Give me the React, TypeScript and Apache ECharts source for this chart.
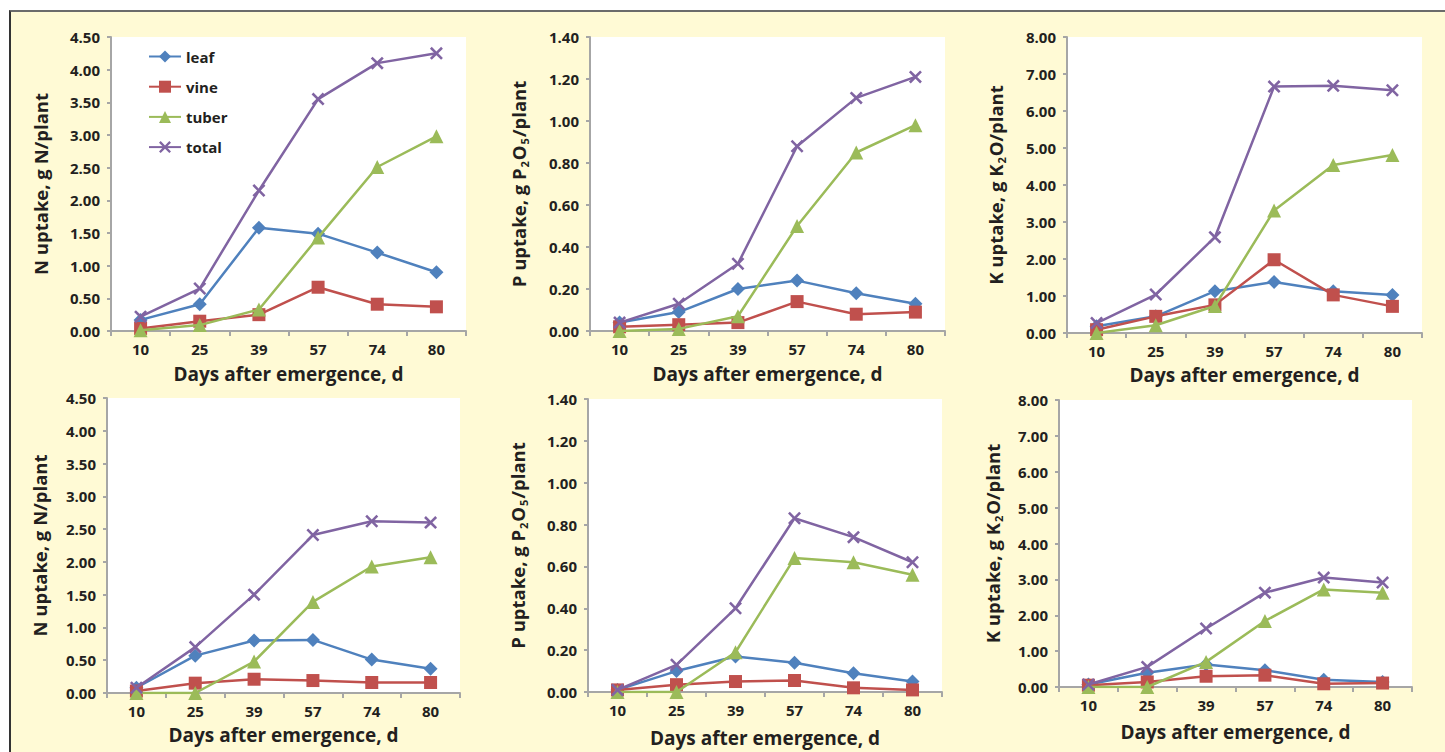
import React, { useEffect, useRef } from "react";
import * as echarts from "echarts";

const categories = ["10", "25", "39", "57", "74", "80"];
const seriesNames = ["leaf", "vine", "tuber", "total"];

// Top row
const topN_leaf = [0.17, 0.41, 1.58, 1.49, 1.2, 0.9];
const topN_vine = [0.04, 0.15, 0.25, 0.67, 0.41, 0.37];
const topN_tuber = [0.01, 0.09, 0.33, 1.43, 2.51, 2.98];
const topN_total = [0.22, 0.65, 2.15, 3.55, 4.1, 4.25];

const topP_leaf = [0.04, 0.09, 0.2, 0.24, 0.18, 0.13];
const topP_vine = [0.02, 0.03, 0.04, 0.14, 0.08, 0.09];
const topP_tuber = [0.0, 0.01, 0.07, 0.5, 0.85, 0.98];
const topP_total = [0.04, 0.13, 0.32, 0.88, 1.11, 1.21];

const topK_leaf = [0.18, 0.45, 1.13, 1.38, 1.13, 1.03];
const topK_vine = [0.09, 0.45, 0.76, 1.98, 1.03, 0.72];
const topK_tuber = [0.0, 0.21, 0.73, 3.31, 4.54, 4.81];
const topK_total = [0.27, 1.04, 2.59, 6.66, 6.68, 6.56];

// Bottom row
const botN_leaf = [0.08, 0.57, 0.8, 0.81, 0.51, 0.37];
const botN_vine = [0.03, 0.15, 0.21, 0.19, 0.16, 0.16];
const botN_tuber = [0.0, 0.0, 0.48, 1.39, 1.93, 2.07];
const botN_total = [0.08, 0.7, 1.5, 2.41, 2.62, 2.6];

const botP_leaf = [0.01, 0.1, 0.17, 0.14, 0.09, 0.05];
const botP_vine = [0.01, 0.035, 0.05, 0.055, 0.02, 0.01];
const botP_tuber = [0.0, 0.0, 0.19, 0.64, 0.62, 0.56];
const botP_total = [0.01, 0.13, 0.4, 0.83, 0.74, 0.62];

const botK_leaf = [0.07, 0.4, 0.63, 0.47, 0.2, 0.14];
const botK_vine = [0.05, 0.14, 0.3, 0.33, 0.09, 0.11];
const botK_tuber = [0.0, 0.0, 0.7, 1.84, 2.72, 2.63];
const botK_total = [0.07, 0.56, 1.63, 2.63, 3.05, 2.91];

const nName = "{a|N uptake, g N/plant}";
const pName = "{a|P uptake, g P}{s|2}{a|O}{s|5}{a|/plant}";
const kName = "{a|K uptake, g K}{s|2}{a|O/plant}";
const xName = "Days after emergence, d";

const COLORS = ["#4F81BD", "#C0504D", "#9BBB59", "#8064A2"];
const XSYM =
  "path://M0,1.4 L1.4,0 L5,3.6 L8.6,0 L10,1.4 L6.4,5 L10,8.6 L8.6,10 L5,6.4 L1.4,10 L0,8.6 L3.6,5 Z";
const SYMBOLS = ["diamond", "rect", "triangle", XSYM];
const SIZES = [14, 13, 14, 13];
const FONT = "'Open Sans', 'DejaVu Sans', sans-serif";
const TEXT = "#231F20";

const panels = [
  { grid: { left: 111, top: 37, width: 355, height: 294 }, max: 4.5, interval: 0.5, yName: nName, yGap: 59, xGap: 33, data: [topN_leaf, topN_vine, topN_tuber, topN_total] },
  { grid: { left: 590, top: 37, width: 355, height: 294 }, max: 1.4, interval: 0.2, yName: pName, yGap: 60, xGap: 33, data: [topP_leaf, topP_vine, topP_tuber, topP_total] },
  { grid: { left: 1067, top: 37, width: 355, height: 296 }, max: 8, interval: 1, yName: kName, yGap: 60, xGap: 32, data: [topK_leaf, topK_vine, topK_tuber, topK_total] },
  { grid: { left: 107, top: 398, width: 353, height: 295 }, max: 4.5, interval: 0.5, yName: nName, yGap: 56, xGap: 32, data: [botN_leaf, botN_vine, botN_tuber, botN_total] },
  { grid: { left: 588, top: 399, width: 354, height: 293 }, max: 1.4, interval: 0.2, yName: pName, yGap: 59, xGap: 36, data: [botP_leaf, botP_vine, botP_tuber, botP_total] },
  { grid: { left: 1059, top: 400, width: 353, height: 287 }, max: 8, interval: 1, yName: kName, yGap: 55, xGap: 35, data: [botK_leaf, botK_vine, botK_tuber, botK_total] },
];

export default function App() {
  const ref = useRef<HTMLDivElement>(null);

  useEffect(() => {
    document.body.style.margin = "0";
    if (!ref.current) return;
    const chart = echarts.init(ref.current, null, { renderer: "svg" });

    const axisLineStyle = { color: "#A6A6A6", width: 2 };
    const grids: any[] = [];
    const xAxes: any[] = [];
    const yAxes: any[] = [];
    const series: any[] = [];

    panels.forEach((p, i) => {
      grids.push({
        ...p.grid,
        show: true,
        backgroundColor: "#FFFFFF",
        borderWidth: 0,
        containLabel: false,
      });
      xAxes.push({
        type: "category",
        gridIndex: i,
        data: categories,
        boundaryGap: true,
        axisLine: { lineStyle: axisLineStyle },
        axisTick: { show: true, length: 5, lineStyle: axisLineStyle, alignWithLabel: false },
        axisLabel: { color: TEXT, fontSize: 15, fontWeight: "bold", fontFamily: FONT, margin: 10 },
        name: xName,
        nameLocation: "middle",
        nameGap: p.xGap,
        nameTextStyle: { color: TEXT, fontSize: 19, fontWeight: "bold", fontFamily: FONT },
        splitLine: { show: false },
      });
      yAxes.push({
        type: "value",
        gridIndex: i,
        min: 0,
        max: p.max,
        interval: p.interval,
        axisLine: { show: true, lineStyle: axisLineStyle },
        axisTick: { show: true, length: 4, lineStyle: axisLineStyle },
        axisLabel: {
          color: TEXT,
          fontSize: 15,
          fontWeight: "bold",
          fontFamily: FONT,
          margin: 11,
          formatter: (v: number) => v.toFixed(2),
        },
        splitLine: { show: false },
        name: p.yName,
        nameLocation: "middle",
        nameGap: p.yGap,
        nameRotate: 90,
        nameTextStyle: {
          rich: {
            a: { color: TEXT, fontSize: 18.5, fontWeight: "bold", fontFamily: FONT, lineHeight: 24 },
            s: { color: TEXT, fontSize: 11, fontWeight: "bold", fontFamily: FONT, verticalAlign: "bottom", lineHeight: 24, padding: [0, 1, 0, 1] },
          },
        },
      });
      p.data.forEach((vals, j) => {
        series.push({
          type: "line",
          name: seriesNames[j],
          xAxisIndex: i,
          yAxisIndex: i,
          data: vals,
          symbol: SYMBOLS[j],
          symbolSize: SIZES[j],
          showSymbol: true,
          lineStyle: { color: COLORS[j], width: 2.5 },
          itemStyle: { color: COLORS[j], borderWidth: 0 },
          z: 2 + j,
        });
      });
    });

    chart.setOption({
      animation: false,
      backgroundColor: "transparent",
      grid: grids,
      xAxis: xAxes,
      yAxis: yAxes,
      series,
      legend: {
        show: true,
        orient: "vertical",
        left: 143,
        top: 44,
        itemWidth: 32,
        itemHeight: 15,
        itemGap: 15.2,
        data: seriesNames,
        textStyle: { color: TEXT, fontSize: 15, fontWeight: "bold", fontFamily: FONT },
        backgroundColor: "transparent",
      },
    });

    return () => chart.dispose();
  }, []);

  return (
    <div style={{ position: "relative", width: 1445, height: 752, background: "#FFFFFF", overflow: "hidden" }}>
      <div
        style={{
          position: "absolute",
          left: 9,
          top: 10,
          width: 1445,
          height: 752,
          background: "#FFFAD5",
          borderTop: "2px solid #6B6B6B",
          borderLeft: "2px solid #333333",
        }}
      />
      <div ref={ref} style={{ position: "absolute", left: 0, top: 0, width: 1445, height: 752 }} />
    </div>
  );
}
